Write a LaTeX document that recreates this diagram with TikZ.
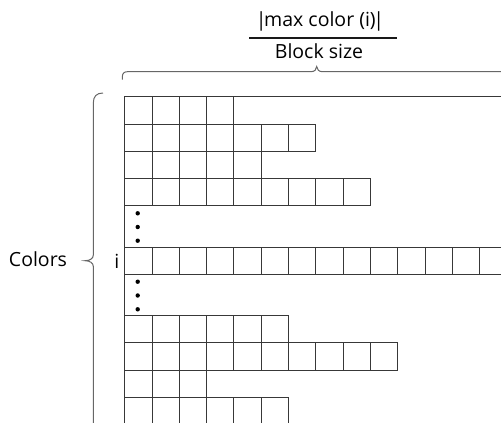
\documentclass[tikz,border=0pt]{standalone}
\usepackage{fontspec}
\setmainfont{Open Sans}
\begin{document}
\begin{tikzpicture}[x=1pt,y=-1pt,
  gridline/.style={draw=black!78,line width=1pt},
  bracel/.style={draw=black!60,line width=1pt},
  lbl/.style={font=\fontsize{19.5}{22}\selectfont,text=black,inner sep=0pt}]
\useasboundingbox (0,0) rectangle (501,423);
\clip (0,0) rectangle (501,423);
\def\cw{27.3}
\def\xo{124.7}
% row helper: \crow{top}{ncells}
\newcommand\crow[2]{%
  \draw[gridline] (\xo,#1) rectangle ++(#2*\cw,27.3);
  \foreach \k in {1,...,#2} {\draw[gridline] (\xo+\k*\cw,#1) -- ++(0,27.3);}
}
% top line extends to right edge
\draw[gridline] (\xo,96.7) -- (501,96.7);
\crow{96.7}{4}
\crow{124}{7}
\crow{151.3}{5}
\crow{178.6}{9}
% left line through the dots
\draw[gridline] (\xo,96.7) -- (\xo,430);
% dots
\foreach \yy in {213.3,227,240.7,281.7,295.5,309.3}
  \fill[black] (137.7,\yy) circle (2.2);
% row i
\draw[gridline] (\xo,247.5) -- (510,247.5);
\draw[gridline] (\xo,274.8) -- (510,274.8);
\foreach \k in {1,...,13} {\draw[gridline] (\xo+\k*\cw,247.5) -- ++(0,27.3);}
% lower rows
\crow{315.5}{6}
\crow{342.8}{10}
\crow{370.1}{3}
\crow{397.4}{6}
% left brace
\draw[bracel] (103,93) .. controls (96.5,93) and (93.3,96.5) .. (93.3,103)
  -- (93.3,255) .. controls (93.3,258.5) and (90,260.7) .. (85,260.7)
  .. controls (90,260.7) and (93.3,263) .. (93.3,266.5) -- (93.3,440);
% top brace
\draw[bracel] (122.3,79.5) -- (122.3,77) .. controls (122.3,73.5) and (124,71.7) .. (127.5,71.7)
  -- (311,71.7) .. controls (314.5,71.7) and (316.7,69.5) .. (316.7,66.5)
  .. controls (316.7,69.5) and (319,71.7) .. (322.5,71.7) -- (520,71.7);
% labels
\node[lbl] (colors) at (38,259.5) {Colors};
\node[lbl] (ilbl) at (116.8,261) {i};
\node[lbl,anchor=base] (num) at (320,26.5) {|\kern-2.5pt max color (i)\kern-2.5pt|};
\node[lbl,anchor=base] (den) at (319,58.5) {Block size};
\draw[black!90,line width=1.8pt] (249,37.7) -- (397,37.7);
\end{tikzpicture}
\end{document}
